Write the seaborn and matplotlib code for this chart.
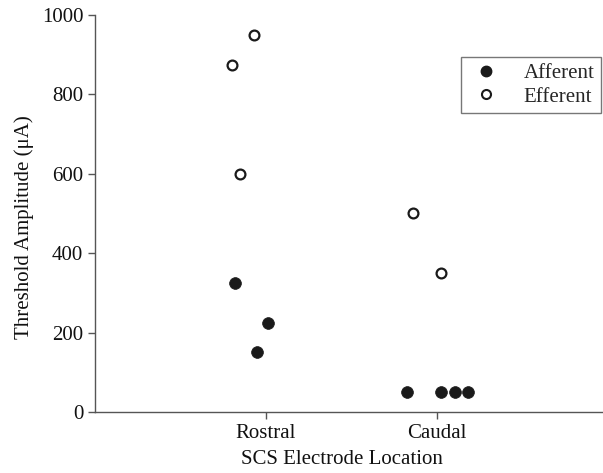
import matplotlib
matplotlib.use("Agg")
import matplotlib.pyplot as plt
import seaborn as sns
import pandas as pd
from matplotlib.lines import Line2D

# ---- data ----
categories = ["Rostral", "Caudal"]
afferent_loc = ["Rostral", "Rostral", "Rostral", "Caudal", "Caudal", "Caudal", "Caudal"]
afferent_val = [325, 225, 150, 50, 50, 50, 50]
afferent_jit = [-0.18, 0.01, -0.05, -0.175, 0.02, 0.105, 0.18]
efferent_loc = ["Rostral", "Rostral", "Rostral", "Caudal", "Caudal"]
efferent_val = [950, 875, 600, 500, 350]
efferent_jit = [-0.07, -0.20, -0.15, -0.14, 0.02]
yticks = [0, 200, 400, 600, 800, 1000]

sns.set_style("ticks")
plt.rcParams["font.family"] = ["Liberation Serif", "DejaVu Serif"]

aff = pd.DataFrame({"loc": afferent_loc, "val": afferent_val, "jit": afferent_jit})
eff = pd.DataFrame({"loc": efferent_loc, "val": efferent_val, "jit": efferent_jit})
for d in (aff, eff):
    d["x"] = d["loc"].map({c: i for i, c in enumerate(categories)}) + d["jit"]

FS = 15
fig = plt.figure(figsize=(6.03, 4.73), dpi=100)
ax = fig.add_axes([95 / 603, 1 - 412 / 473, (603 - 95) / 603, (412 - 15) / 473])

sns.scatterplot(data=aff, x="x", y="val", ax=ax, color="#1a1a1a", s=72,
                edgecolor="#1a1a1a", linewidth=0.5, legend=False, zorder=3)
sns.scatterplot(data=eff, x="x", y="val", ax=ax, facecolor="white", s=50,
                edgecolor="#1a1a1a", linewidth=1.6, legend=False, zorder=3)

ax.set_xlim(-1, 1.97)
ax.set_ylim(0, 1000)
ax.set_xticks(range(len(categories)))
ax.set_xticklabels(categories)
ax.set_yticks(yticks)
for s in ("top", "right"):
    ax.spines[s].set_visible(False)
for s in ("left", "bottom"):
    ax.spines[s].set_color("#555555")
    ax.spines[s].set_linewidth(1.0)
ax.tick_params(axis="both", labelsize=FS, colors="#555555", labelcolor="#111111",
               length=5, width=1.0)
ax.set_xlabel("SCS Electrode Location", fontsize=FS, color="#111111")
ax.set_ylabel("Threshold Amplitude (μA)", fontsize=FS, color="#111111")
ax.xaxis.set_label_coords(0.486, -0.095)
ax.yaxis.set_label_coords(-0.12, 0.466)

handles = [
    Line2D([], [], marker="o", linestyle="none", markersize=7.5,
           markerfacecolor="#1a1a1a", markeredgecolor="#1a1a1a", label="Afferent"),
    Line2D([], [], marker="o", linestyle="none", markersize=6.5,
           markerfacecolor="white", markeredgecolor="#1a1a1a", markeredgewidth=1.5,
           label="Efferent"),
]
leg = ax.legend(handles=handles, loc="upper right", bbox_to_anchor=(0.996, 0.894),
                fontsize=FS, frameon=True, fancybox=False, borderpad=0.3,
                handletextpad=0.9, labelspacing=0.2, borderaxespad=0.0,
                handlelength=1.8)
leg.get_frame().set_edgecolor("#555555")
leg.get_frame().set_linewidth(1.0)

fig.savefig("out.png", dpi=100)
